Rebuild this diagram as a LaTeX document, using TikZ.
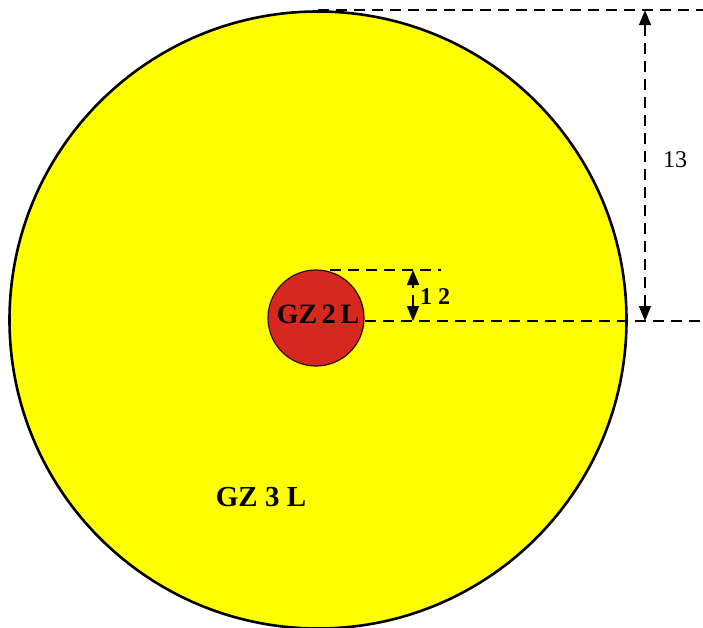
\documentclass[tikz,border=0pt]{standalone}
\usepackage{fontspec}
\setmainfont{Liberation Serif}
\usepackage{xcolor}
\definecolor{gzyellow}{RGB}{255,255,0}
\definecolor{gzred}{RGB}{214,40,30}
\usetikzlibrary{arrows.meta,positioning,calc}

\tikzset{
  dimline/.style={draw=black, line width=1.7pt, dash pattern=on 11pt off 7pt},
  dimarrow/.style={dimline, {Triangle[length=15pt,width=12pt]}-{Triangle[length=15pt,width=12pt]}},
  gzlabel/.style={font=\bfseries, text=black, inner sep=0pt}
}

\begin{document}
\begin{tikzpicture}[x=1pt, y=-1pt]
  \useasboundingbox (0,0) rectangle (703,628);
  \fill[white] (0,0) rectangle (703,628);

  % zones
  \node[circle, draw=black, line width=2.6pt, fill=gzyellow, minimum size=617pt, inner sep=0pt] (outer) at (318,320) {};
  \node[circle, draw=black!80!gzred, line width=1.2pt, fill=gzred, minimum size=96pt, inner sep=0pt] (inner) at (316,318) {};

  \node[gzlabel, font=\fontsize{28}{28}\selectfont\bfseries] (gz2) at (318,314) {GZ\,2\,L};
  \node[gzlabel, font=\fontsize{29}{29}\selectfont\bfseries] (gz3) at (261,497) {GZ 3 L};

  % dimension lines
  \coordinate (topR) at (703,12);
  \coordinate (midL) at (365,321);
  \coordinate (midR) at (703,321);
  \coordinate (smlL) at (330,270);
  \coordinate (smlR) at (441,270);
  \coordinate (bigB) at (645,321);
  \coordinate (bigT) at (bigB |- outer.north);
  \coordinate (smlT) at (413,270);
  \coordinate (smlB) at (413,321);

  \draw[dimline] (outer.north) -- (outer.north -| topR);
  \draw[dimline] (midL) -- (midR);
  \draw[dimline] (smlL) -- (smlR);
  \draw[dimarrow] (bigB) -- (bigT);
  \draw[dimarrow] (smlB) -- (smlT);

  \node[gzlabel, font=\fontsize{24}{24}\selectfont\bfseries] (r2) at (435,297) {1 2};
  \node[gzlabel, font=\fontsize{24}{24}\selectfont] (r3) at (675,160) {13};
\end{tikzpicture}
\end{document}
